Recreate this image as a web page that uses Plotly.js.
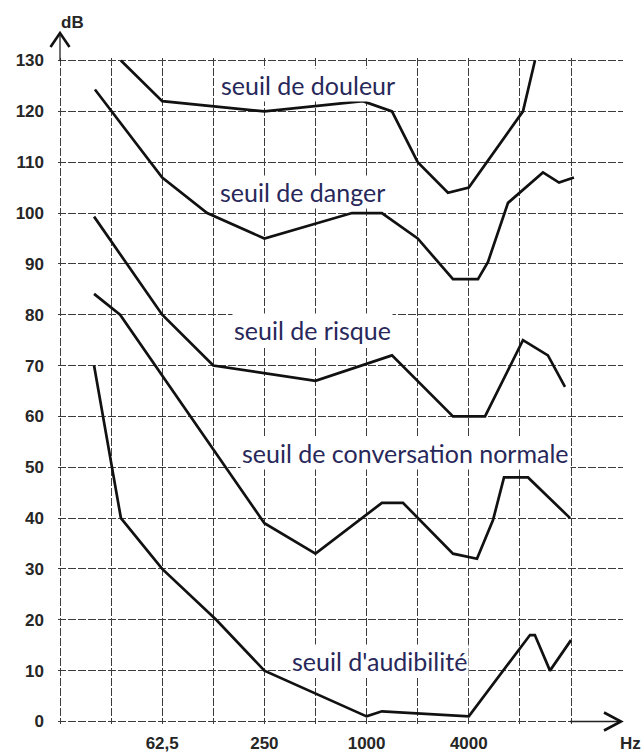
<!DOCTYPE html>
<html>
<head>
<meta charset="utf-8">
<script src="https://cdn.plot.ly/plotly-3.0.1.min.js"></script>
<style>html,body{margin:0;padding:0;background:#fff;}#chart{width:644px;height:753px;}</style>
</head>
<body>
<div id="chart"></div>
<script>
// ---- data ----
const gridFreqs = [15.625, 31.25, 62.5, 125, 250, 500, 1000, 2000, 4000, 8000, 16000];
const freqLabels = ['', '', '62,5', '', '250', '', '1000', '', '4000', '', ''];
const dbTicks = [0, 10, 20, 30, 40, 50, 60, 70, 80, 90, 100, 110, 120, 130];

const douleurF = [35.7, 62.5, 250, 951, 1411, 2000, 3016, 4000, 8340, 9815];
const douleurDB = [130, 122, 120, 122, 120, 110, 104, 105, 120, 130];

const dangerF = [25.1, 62.5, 115, 250, 820, 1231, 2000, 3228, 4530, 5190, 6808, 10940, 13600, 16650];
const dangerDB = [124.3, 107, 100, 95, 100, 100, 95, 87, 87, 90.4, 102, 108, 106, 107];

const risqueF = [24.8, 62.5, 125, 500, 1411, 3228, 4985, 8340, 11700, 14750];
const risqueDB = [99.3, 80, 70, 67, 72, 60, 60, 75, 72, 65.8];

const conversationF = [24.8, 35.3, 250, 500, 1231, 1638, 3228, 4470, 5555, 6449, 8931, 15800];
const conversationDB = [84.1, 80, 39, 33, 43, 43, 33, 32, 39.6, 48, 48, 40];

const audibiliteF = [24.8, 35.7, 62.5, 130, 250, 1000, 1231, 4000, 9175, 9800, 12030, 16000];
const audibiliteDB = [70, 40, 30, 20, 10, 1, 2, 1, 17, 17, 10, 16];

const curveLabels = ['seuil de douleur', 'seuil de danger', 'seuil de risque', 'seuil de conversation normale', "seuil d'audibilité"];

// ---- layout helpers ----
const W = 644, H = 753;
const M = {l: 58, r: 21, t: 58, b: 29};
const PW = W - M.l - M.r, PH = H - M.t - M.b;
const px = x => (x - M.l) / PW;
const py = y => (H - M.b - y) / PH;

const lineStyle = {color: '#111', width: 2.7};
const series = [
  [douleurF, douleurDB], [dangerF, dangerDB], [risqueF, risqueDB],
  [conversationF, conversationDB], [audibiliteF, audibiliteDB]
];
const traces = series.map(s => ({
  x: s[0], y: s[1], type: 'scatter', mode: 'lines',
  line: lineStyle, hoverinfo: 'skip', cliponaxis: true
}));

const labelFont = {family: 'Lato, "Open Sans", sans-serif', size: 25, color: '#28285a'};
const labelPos = [[219, 85], [218, 192], [232, 330], [240, 453], [290, 661]];
const annotations = curveLabels.map((t, i) => ({
  text: t, xref: 'paper', yref: 'paper',
  x: px(labelPos[i][0]), y: py(labelPos[i][1]),
  xanchor: 'left', yanchor: 'middle', showarrow: false,
  font: labelFont, bgcolor: '#ffffff', borderpad: 1
}));
const axisFont = {family: '"Liberation Sans", Arial, sans-serif', size: 17, color: '#262626', weight: 'bold'};
annotations.push({text: 'dB', xref: 'paper', yref: 'paper', x: px(59), y: py(22), xanchor: 'left', yanchor: 'middle', showarrow: false, font: axisFont});
annotations.push({text: 'Hz', xref: 'paper', yref: 'paper', x: px(643), y: py(743), xanchor: 'right', yanchor: 'middle', showarrow: false, font: axisFont});

const arrowLine = {color: '#111', width: 2.6};
const shapes = [
  {type: 'line', xref: 'paper', yref: 'paper', x0: px(60), y0: py(61), x1: px(60), y1: py(34), line: {color: '#222', width: 1.3}},
  {type: 'path', xref: 'paper', yref: 'paper', line: arrowLine,
   path: `M ${px(50.5)} ${py(47)} L ${px(60)} ${py(33)} L ${px(69.5)} ${py(47)}`},
  {type: 'line', xref: 'paper', yref: 'paper', x0: px(570), y0: py(721.5), x1: px(620), y1: py(721.5), line: {color: '#222', width: 1.3}},
  {type: 'path', xref: 'paper', yref: 'paper', line: arrowLine,
   path: `M ${px(604)} ${py(712.5)} L ${px(621)} ${py(721.5)} L ${px(604)} ${py(730.5)}`}
];

const log2 = Math.log10(2);
const x0 = Math.log10(gridFreqs[0]) - (2 / 51.1) * log2;
const x1 = x0 + (PW / 51.1) * log2;

const layout = {
  width: W, height: H, margin: M,
  paper_bgcolor: '#fff', plot_bgcolor: '#fff', showlegend: false,
  xaxis: {
    type: 'log', range: [x0, x1], tickvals: gridFreqs, ticktext: freqLabels,
    showgrid: true, gridcolor: '#3c3c3c', gridwidth: 1, griddash: '8px,2px',
    zeroline: false, showline: false, ticks: '', tickfont: axisFont, ticklabelstandoff: 7
  },
  yaxis: {
    range: [-0.5, 130.5], tickvals: dbTicks,
    showgrid: true, gridcolor: '#3c3c3c', gridwidth: 1, griddash: '8px,2px',
    zeroline: false, showline: false, ticks: '', tickfont: axisFont, ticklabelstandoff: 13
  },
  annotations: annotations, shapes: shapes
};

Plotly.newPlot('chart', traces, layout, {displayModeBar: false, staticPlot: true});
</script>
</body>
</html>
